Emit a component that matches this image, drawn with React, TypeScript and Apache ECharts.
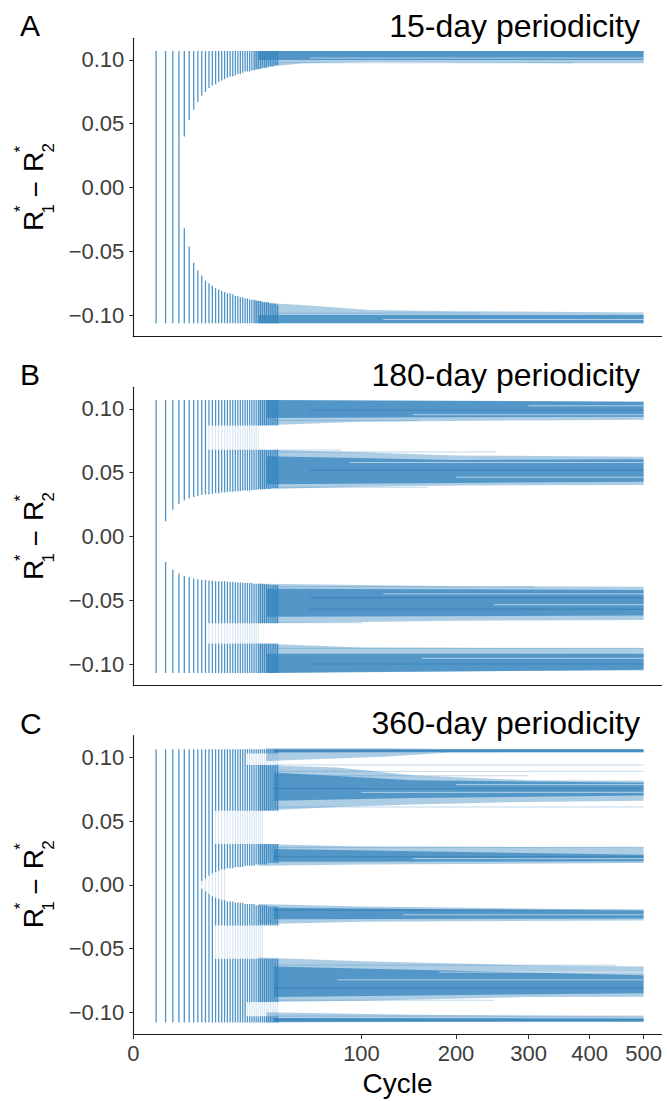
import React, { useEffect, useRef } from "react";
import * as echarts from "echarts";

// ---------- data ----------
const xTickCycles = [0, 100, 200, 300, 400, 500];
const yTicks = [-0.1, -0.05, 0, 0.05, 0.1];
const panelLetters = ["A", "B", "C"];
const panelTitles = ["15-day periodicity", "180-day periodicity", "360-day periodicity"];

const strokeCycles = [1, 2, 3, 4, 5, 6, 7, 8, 9, 10, 11, 12, 13, 14, 15, 16, 17, 18, 19, 20, 21, 22, 23, 24, 25, 26, 27, 28, 29, 30, 31, 32, 33, 34, 35, 36, 37, 38, 39, 40];

// Panel A (15-day)
const aRange = [-0.1065, 0.107];
const aCentralHi = [null, null, null, null, 0.04, 0.053, 0.061, 0.067, 0.072, 0.075, 0.078, 0.08, 0.081, 0.083, 0.084, 0.085, 0.086, 0.087, 0.087, 0.088, 0.089, 0.089, 0.09, 0.091, 0.091, 0.091, 0.092, 0.092, 0.093, 0.093, 0.093, 0.094, 0.094, 0.094, 0.095, 0.095, 0.095, 0.095, 0.096, 0.096];
const aCentralLo = [null, null, null, null, -0.032, -0.046, -0.059, -0.065, -0.069, -0.073, -0.075, -0.077, -0.079, -0.08, -0.081, -0.082, -0.083, -0.083, -0.084, -0.085, -0.085, -0.086, -0.086, -0.087, -0.087, -0.088, -0.088, -0.088, -0.089, -0.089, -0.089, -0.09, -0.09, -0.09, -0.09, -0.091, -0.091, -0.091, -0.091, -0.092];
const aGaps: number[][] = [];
const aBandsLight = [
  [[28, 0.092, 0.107], [38, 0.095, 0.107], [55, 0.0974, 0.107], [107, 0.0985, 0.107], [200, 0.098, 0.107], [350, 0.0975, 0.107], [500, 0.0975, 0.107]],
  [[28, -0.1065, -0.088], [38, -0.1065, -0.091], [55, -0.1065, -0.0922], [107, -0.1065, -0.0961], [200, -0.1065, -0.097], [500, -0.1065, -0.098]],
];
const aBandsDark = [
  [[30, 0.1, 0.107], [500, 0.1, 0.107]],
  [[30, -0.1065, -0.1], [500, -0.1065, -0.1]],
];
const aStreaksLight = [[38, 371, 0.0978], [38, 230, -0.0985]];
const aStreaksDark: number[][] = [];
const aStreaksWhite = [[60, 500, 0.1015], [120, 500, -0.1035]];

// Panel B (180-day)
const bRange = [-0.107, 0.107];
const bCentralHi = [null, 0.012, 0.021, 0.0255, 0.0285, 0.03, 0.031, 0.032, 0.0325, 0.033, 0.033, 0.0335, 0.034, 0.034, 0.0345, 0.0345, 0.035, 0.035, 0.035, 0.0355, 0.0355, 0.0355, 0.036, 0.036, 0.036, 0.036, 0.0365, 0.0365, 0.0365, 0.037, 0.037, 0.037, 0.037, 0.0375, 0.0375, 0.0375, 0.038, 0.038, 0.038, 0.038];
const bCentralLo = [null, -0.02, -0.026, -0.029, -0.031, -0.032, -0.033, -0.0335, -0.034, -0.034, -0.0345, -0.0345, -0.035, -0.035, -0.035, -0.035, -0.0355, -0.0355, -0.0355, -0.036, -0.036, -0.036, -0.036, -0.0365, -0.0365, -0.0365, -0.0365, -0.037, -0.037, -0.037, -0.037, -0.037, -0.0375, -0.0375, -0.0375, -0.038, -0.038, -0.038, -0.038, -0.038];
const bGaps = [[11, 0.068, 0.087, 30], [11, -0.084, -0.068, 30]];
const bBandsLight = [
  [[30, 0.087, 0.107], [100, 0.09, 0.1065], [300, 0.091, 0.106], [500, 0.0915, 0.1057]],
  [[30, 0.037, 0.068], [100, 0.039, 0.066], [200, 0.04, 0.0635], [500, 0.0404, 0.0626]],
  [[30, -0.068, -0.037], [100, -0.067, -0.038], [200, -0.066, -0.039], [500, -0.0655, -0.0394]],
  [[30, -0.107, -0.084], [100, -0.106, -0.087], [500, -0.105, -0.0877]],
];
const bBandsDark = [
  [[34, 0.093, 0.107], [500, 0.094, 0.1057]],
  [[34, 0.041, 0.063], [200, 0.042, 0.06], [500, 0.043, 0.0605]],
  [[34, -0.063, -0.041], [500, -0.062, -0.042]],
  [[34, -0.107, -0.092], [500, -0.1045, -0.092]],
];
const bStreaksLight = [[38, 155, 0.091], [38, 83, 0.0678], [38, 253, 0.0663], [38, 166, 0.0386], [38, 309, -0.0394], [38, 101, -0.0676], [38, 500, -0.0877]];
const bStreaksDark = [[60, 500, 0.099], [60, 500, 0.052], [60, 500, -0.048], [60, 500, -0.057], [60, 500, -0.1]];
const bStreaksWhite = [[150, 500, 0.0955], [90, 500, 0.058], [200, 500, 0.0465], [120, 500, -0.045], [250, 500, -0.0535], [160, 500, -0.0955], [300, 500, 0.1025]];

// Panel C (360-day)
const cRange = [-0.108, 0.1063];
const cCentralHi = [null, null, null, null, null, null, null, null, 0.003, 0.005, 0.007, 0.009, 0.01, 0.011, 0.012, 0.012, 0.013, 0.013, 0.013, 0.014, 0.014, 0.014, 0.014, 0.015, 0.015, 0.015, 0.015, 0.015, 0.016, 0.016, 0.016, 0.016, 0.016, 0.016, 0.017, 0.017, 0.017, 0.017, 0.017, 0.017];
const cCentralLo = [null, null, null, null, null, null, null, null, -0.003, -0.005, -0.007, -0.009, -0.01, -0.011, -0.012, -0.012, -0.013, -0.013, -0.013, -0.014, -0.014, -0.014, -0.014, -0.015, -0.015, -0.015, -0.015, -0.015, -0.016, -0.016, -0.016, -0.016, -0.016, -0.016, -0.017, -0.017, -0.017, -0.017, -0.017, -0.017];
const cGaps = [[13, 0.032, 0.058, 32], [13, -0.058, -0.032, 32], [25, 0.094, 0.103, 40], [25, -0.103, -0.092, 40]];
const cBandsLight = [
  [[34, 0.097, 0.107], [120, 0.1005, 0.107], [190, 0.1035, 0.1065], [500, 0.1035, 0.1065]],
  [[30, 0.058, 0.094], [80, 0.061, 0.092], [150, 0.063, 0.086], [300, 0.065, 0.082], [500, 0.066, 0.0815]],
  [[30, 0.015, 0.032], [100, 0.016, 0.03], [500, 0.017, 0.0294]],
  [[30, -0.031, -0.015], [100, -0.029, -0.017], [500, -0.028, -0.0198]],
  [[30, -0.092, -0.057], [100, -0.091, -0.06], [300, -0.088, -0.063], [500, -0.0878, -0.064]],
  [[34, -0.108, -0.1], [150, -0.1075, -0.102], [500, -0.1074, -0.103]],
];
const cBandsDark = [
  [[38, 0.1038, 0.1063], [500, 0.1042, 0.1063]],
  [[38, 0.066, 0.088], [150, 0.068, 0.082], [500, 0.07, 0.08]],
  [[38, 0.018, 0.028], [500, 0.0185, 0.0235]],
  [[38, -0.027, -0.018], [500, -0.0265, -0.0205]],
  [[38, -0.088, -0.064], [500, -0.085, -0.071]],
  [[38, -0.1075, -0.1045], [500, -0.1074, -0.1048]],
];
const cStreaksLight = [[38, 500, 0.094], [38, 500, 0.089], [38, 500, 0.061], [38, 500, 0.0294], [38, 500, -0.1029], [38, 448, -0.063], [38, 300, 0.0855], [38, 250, -0.0905]];
const cStreaksDark = [[38, 500, 0.105], [38, 500, -0.0198], [38, 500, 0.0755], [38, 500, -0.081], [38, 500, 0.022], [38, 500, -0.106]];
const cStreaksWhite = [[100, 500, 0.0725], [200, 500, 0.0785], [80, 500, -0.0745], [180, 500, -0.0685], [150, 500, 0.0205], [140, 500, -0.0235]];
const cCentralFaintUntil = 16;

// ---------- helpers ----------
const BLUE = "#3182bd";
const FONT = "'Liberation Sans', Arial, Helvetica, sans-serif";

function strokeRows(range: number[], cHi: (number | null)[], cLo: (number | null)[], gaps: number[][], centralFaintUntil: number) {
  const dense: number[][] = [];
  const faint: number[][] = [];
  strokeCycles.forEach((c, i) => {
    const x = Math.sqrt(c);
    let segs: number[][] =
      cHi[i] == null ? [[range[0], range[1]]] : [[range[0], cLo[i] as number], [cHi[i] as number, range[1]]];
    if (cHi[i] != null && c <= centralFaintUntil) faint.push([x, cLo[i] as number, cHi[i] as number]);
    gaps.forEach(([from, lo, hi, faintUntil]) => {
      if (c < from) return;
      segs = segs.flatMap(([a, b]) => {
        if (hi <= a || lo >= b) return [[a, b]];
        const out: number[][] = [];
        if (lo > a) out.push([a, lo]);
        if (hi < b) out.push([hi, b]);
        return out;
      });
      if (c <= faintUntil) faint.push([x, lo, hi]);
    });
    segs.forEach(([a, b]) => dense.push([x, a, b]));
  });
  return { dense, faint };
}

const panels = [
  { strokes: strokeRows(aRange, aCentralHi, aCentralLo, aGaps, 0), light: aBandsLight, dark: aBandsDark, sl: aStreaksLight, sd: aStreaksDark, sw: aStreaksWhite },
  { strokes: strokeRows(bRange, bCentralHi, bCentralLo, bGaps, 0), light: bBandsLight, dark: bBandsDark, sl: bStreaksLight, sd: bStreaksDark, sw: bStreaksWhite },
  { strokes: strokeRows(cRange, cCentralHi, cCentralLo, cGaps, cCentralFaintUntil), light: cBandsLight, dark: cBandsDark, sl: cStreaksLight, sd: cStreaksDark, sw: cStreaksWhite },
];

const GRID_LEFT = 133.3;
const GRID_WIDTH = 528.3;
const GRID_TOPS = [38.3, 387.3, 735.6];
const GRID_HEIGHT = 298.4;
const Y_LIM = 0.117;
const X_MAX = Math.sqrt(536);

function bandSeries(bands: number[][][], idx: number, opacity: number) {
  return {
    type: "custom",
    xAxisIndex: idx,
    yAxisIndex: idx,
    silent: true,
    data: bands.map((_, i) => [i, 0]),
    renderItem: (params: any, api: any) => {
      const band = bands[api.value(0)];
      const upper = band.map((p) => api.coord([Math.sqrt(p[0]), p[2]]));
      const lower = band
        .slice()
        .reverse()
        .map((p) => api.coord([Math.sqrt(p[0]), p[1]]));
      return {
        type: "polygon",
        shape: { points: upper.concat(lower) },
        style: { fill: BLUE, opacity },
      };
    },
  };
}

function strokeSeries(rows: number[][], idx: number, opacity: number, width: number) {
  return {
    type: "custom",
    xAxisIndex: idx,
    yAxisIndex: idx,
    silent: true,
    data: rows,
    renderItem: (params: any, api: any) => {
      const p1 = api.coord([api.value(0), api.value(1)]);
      const p2 = api.coord([api.value(0), api.value(2)]);
      return {
        type: "line",
        shape: { x1: p1[0], y1: p1[1], x2: p2[0], y2: p2[1] },
        style: { stroke: BLUE, lineWidth: width, opacity },
      };
    },
  };
}

function streakSeries(rows: number[][], idx: number, color: string, opacity: number, width: number) {
  return {
    type: "custom",
    xAxisIndex: idx,
    yAxisIndex: idx,
    silent: true,
    data: rows.map((r) => [Math.sqrt(r[0]), r[2], Math.sqrt(r[1])]),
    renderItem: (params: any, api: any) => {
      const p1 = api.coord([api.value(0), api.value(1)]);
      const p2 = api.coord([api.value(2), api.value(1)]);
      return {
        type: "line",
        shape: { x1: p1[0], y1: p1[1], x2: p2[0], y2: p2[1] },
        style: { stroke: color, lineWidth: width, opacity },
      };
    },
  };
}

function yTitle(cy: number) {
  const big = `28px ${FONT}`;
  const small = `17px ${FONT}`;
  const t = (text: string, x: number, y: number, font: string) => ({
    type: "text",
    x,
    y,
    style: { text, font, fill: "#000", align: "left", verticalAlign: "middle" },
  });
  return {
    type: "group",
    x: 33,
    y: cy,
    rotation: Math.PI / 2,
    silent: true,
    children: [
      t("R", -43.5, 0, big),
      t("*", -24.5, -12.5, small),
      t("1", -26, 15, small),
      t("\u2212", -10, 2, big),
      t("R", 15.5, 0, big),
      t("*", 35, -12.5, small),
      t("2", 35, 15, small),
    ],
  };
}

export default function App() {
  const ref = useRef<HTMLDivElement>(null);
  useEffect(() => {
    if (!ref.current) return;
    const chart = echarts.init(ref.current, null, { renderer: "svg" });
    const grids = GRID_TOPS.map((top) => ({ left: GRID_LEFT, width: GRID_WIDTH, top, height: GRID_HEIGHT }));
    const xAxes = GRID_TOPS.map((_, i) => ({
      type: "value",
      gridIndex: i,
      min: 0,
      max: X_MAX,
      axisLine: { show: true, onZero: false, lineStyle: { color: "#1a1a1a", width: 1.1 } },
      axisTick:
        i === 2
          ? { show: true, length: 5, customValues: xTickCycles.map((c) => Math.sqrt(c)), lineStyle: { color: "#333" } }
          : { show: false },
      axisLabel:
        i === 2
          ? {
              show: true,
              customValues: xTickCycles.map((c) => Math.sqrt(c)),
              formatter: (v: number) => String(Math.round(v * v)),
              fontSize: 22,
              fontFamily: FONT,
              color: "#3d3d3d",
              margin: 8,
            }
          : { show: false },
      splitLine: { show: false },
      name: i === 2 ? "Cycle" : "",
      nameLocation: "middle",
      nameGap: 35,
      nameTextStyle: { fontSize: 28, fontFamily: FONT, color: "#000" },
    }));
    const yAxes = GRID_TOPS.map((_, i) => ({
      type: "value",
      gridIndex: i,
      min: -Y_LIM,
      max: Y_LIM,
      axisLine: { show: true, lineStyle: { color: "#1a1a1a", width: 1.1 } },
      axisTick: { show: true, length: 4, customValues: yTicks, lineStyle: { color: "#333" } },
      axisLabel: {
        show: true,
        customValues: yTicks,
        formatter: (v: number) => (v < -1e-9 ? "\u2212" : "") + Math.abs(v).toFixed(2),
        fontSize: 22,
        fontFamily: FONT,
        color: "#3d3d3d",
        margin: 9,
      },
      splitLine: { show: false },
    }));
    const series: any[] = [];
    panels.forEach((p, i) => {
      series.push(bandSeries(p.light, i, 0.4));
      series.push(bandSeries(p.dark, i, 0.72));
      series.push(strokeSeries(p.strokes.faint, i, 0.18, 1.2));
      series.push(strokeSeries(p.strokes.dense, i, 0.85, 1.3));
      series.push(streakSeries(p.sw, i, "#ffffff", 0.55, 1));
      series.push(streakSeries(p.sl, i, BLUE, 0.3, 1));
      series.push(streakSeries(p.sd, i, "#1f6fa8", 0.45, 1.2));
    });
    const graphics: any[] = [];
    GRID_TOPS.forEach((top, i) => {
      const cy = top + GRID_HEIGHT / 2;
      const ty = top - 12.5;
      graphics.push({
        type: "text",
        x: 20,
        y: ty,
        silent: true,
        style: { text: panelLetters[i], font: `30px ${FONT}`, fill: "#000", align: "left", verticalAlign: "middle" },
      });
      graphics.push({
        type: "text",
        x: 640,
        y: ty,
        silent: true,
        style: { text: panelTitles[i], font: `32px ${FONT}`, fill: "#000", align: "right", verticalAlign: "middle" },
      });
      graphics.push(yTitle(cy));
    });
    chart.setOption({
      animation: false,
      backgroundColor: "#fff",
      grid: grids,
      xAxis: xAxes,
      yAxis: yAxes,
      series,
      graphic: graphics,
    });
    return () => chart.dispose();
  }, []);
  return <div ref={ref} style={{ position: "absolute", left: 0, top: 0, width: 667, height: 1101 }} />;
}
